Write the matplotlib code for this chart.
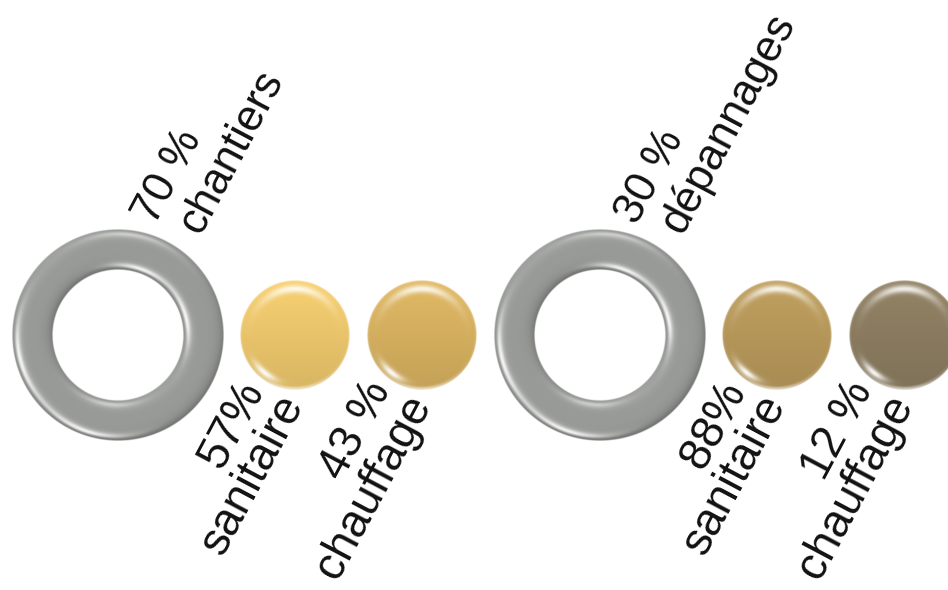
import numpy as np
import matplotlib
matplotlib.use("Agg")
import matplotlib.pyplot as plt
from matplotlib.colors import to_rgb

# data
groups = ["chantiers", "dépannages"]
group_pct = [70, 30]
group_sep = [" ", " "]
sub_names = [["sanitaire", "chauffage"], ["sanitaire", "chauffage"]]
sub_pct = [[57, 43], [88, 12]]
sub_sep = [["", " "], ["", " "]]

# styles / layout
ring_color = "#979996"
sub_colors = [["#EDC76C", "#D7B160"], ["#B8995B", "#8C7D61"]]
ring_x = [118, 600]
ring_y = 335
sub_dx = [177, 304]
r_out, r_in, r_ball = 106, 65, 55
ANG = 62


def norm(v):
    v = np.array(v, float)
    return v / np.linalg.norm(v)


def shade_ball(color, r, ss=3):
    n = int(2 * r * ss)
    c = (np.arange(n) + 0.5) / n * 2 - 1
    x, y = np.meshgrid(c, c)
    d = np.hypot(x, y)
    ang = np.arctan2(y, x)
    base = np.array(to_rgb(color))
    g = 1.05 - 0.14 * (y + 1) / 2
    img = base[None, None, :] * g[..., None]
    top = np.exp(-((d - 0.84) / 0.07) ** 2) * np.exp(-((ang + np.pi / 2) / 0.75) ** 2)
    ll = np.exp(-((d - 0.88) / 0.06) ** 2) * np.exp(-((ang - 2.25) / 0.3) ** 2)
    bot = np.exp(-((d - 0.97) / 0.03) ** 2) * np.exp(-((ang - 1.57) / 0.6) ** 2)
    rim = np.clip((d - 0.94) / 0.06, 0, 1) ** 2 * 0.3
    w = np.clip(0.85 * top + 0.95 * ll + 0.5 * bot + rim, 0, 1)
    img = img * (1 - w[..., None]) + w[..., None]
    alpha = np.clip((1 - d) * r, 0, 1)
    return np.dstack([np.clip(img, 0, 1), alpha])


def shade_ring(color, ro, ri, ss=3):
    n = int(2 * ro * ss)
    p = (np.arange(n) + 0.5) / ss - ro
    x, y = np.meshgrid(p, p)
    d = np.hypot(x, y) + 1e-9
    rm, rw = (ro + ri) / 2, (ro - ri) / 2
    t = np.clip((d - rm) / rw, -1, 1)
    s = np.sign(t) * np.abs(t) ** 2.5 * 0.98
    nx, ny = s * x / d, s * y / d
    nz = np.sqrt(1 - s ** 2)
    N = np.dstack([nx, ny, nz])
    base = np.array(to_rgb(color))
    L0 = norm([-0.3, -0.5, 0.8])
    diff = np.clip(N @ L0, 0, 1)
    img = base[None, None, :] * (0.76 + 0.3 * diff)[..., None]
    spec = np.zeros_like(d)
    for L, k in [([-0.8, 0.2, 0.55], 0.9), ([-0.3, 0.85, 0.5], 0.9), ([0.1, -0.85, 0.5], 0.5)]:
        H = norm(norm(L) + np.array([0, 0, 1.0]))
        spec += k * np.clip(N @ H, 0, 1) ** 40
    w = np.clip(spec, 0, 1)
    img = img * (1 - w[..., None]) + w[..., None]
    alpha = np.clip(ro - d, 0, 1) * np.clip(d - ri, 0, 1)
    return np.dstack([np.clip(img, 0, 1), alpha])


fig = plt.figure(figsize=(9.48, 5.9), dpi=100)
ax = fig.add_axes([0, 0, 1, 1])
ax.set_xlim(0, 948)
ax.set_ylim(590, 0)
ax.axis("off")

txt = dict(rotation=ANG, rotation_mode="anchor",
           family="Liberation Sans", color="#111111", va="baseline")

ring_img = shade_ring(ring_color, r_out, r_in)
for i, gx in enumerate(ring_x):
    ax.imshow(ring_img, extent=(gx - r_out, gx + r_out, ring_y + r_out, ring_y - r_out),
              interpolation="bilinear", zorder=2)
    # top label
    ax.text(gx + 37, 226, f"{group_pct[i]}{group_sep[i]}%", ha="left", fontsize=31.5, **txt)
    ax.text(gx + 82, 236, groups[i], ha="left", fontsize=31.5, **txt)
    for j in range(2):
        bx = gx + sub_dx[j]
        ax.imshow(shade_ball(sub_colors[i][j], r_ball),
                  extent=(bx - r_ball, bx + r_ball, ring_y + r_ball, ring_y - r_ball),
                  interpolation="bilinear", zorder=2)
        ax.text(bx - 31, 390, f"{sub_pct[i][j]}{sub_sep[i][j]}%", ha="right", fontsize=33, **txt)
        ax.text(bx + 9, 404, sub_names[i][j], ha="right", fontsize=33, **txt)

ax.set_xlim(0, 948)
ax.set_ylim(590, 0)
fig.savefig("out.png", dpi=100, facecolor="white")
